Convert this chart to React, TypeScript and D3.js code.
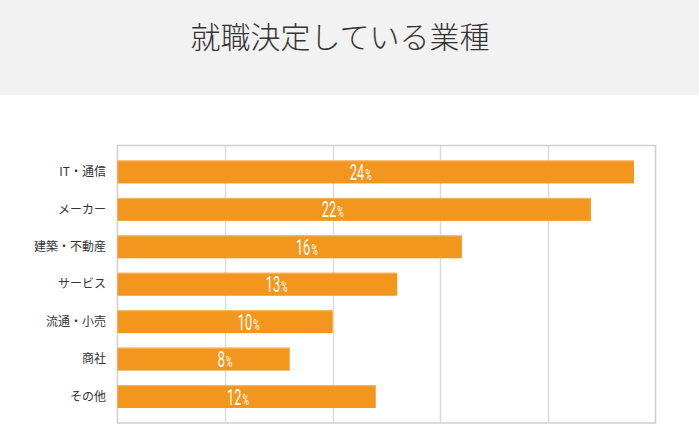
import React from "react";
import * as d3 from "d3";

const title = "就職決定している業種";
const categories = ["IT・通信", "メーカー", "建築・不動産", "サービス", "流通・小売", "商社", "その他"];
const values = [24, 22, 16, 13, 10, 8, 12];
// where each value label sits along the bar (in % units)
const labelAt = [11.3, 10.0, 8.8, 7.4, 6.1, 5.0, 5.6];
const xMax = 25;
const gridTicks = [0, 5, 10, 15, 20, 25];

const W = 699;
const H = 440;
const left = 117.5;
const right = 655.5;
const top = 145.5;
const bottom = 423;

export default function App() {
  const x = d3.scaleLinear().domain([0, xMax]).range([left, right]);
  const y = d3
    .scaleBand<string>()
    .domain(categories)
    .range([top, bottom])
    .paddingInner(0.387)
    .paddingOuter(0.4);
  const bw = y.bandwidth();
  return (
    <svg
      width={W}
      height={H}
      style={{ position: "absolute", left: 0, top: 0, background: "#fff" }}
    >
      <rect x={0} y={0} width={W} height={95} fill="#f2f2f2" />
      <text
        x={340}
        y={48}
        textAnchor="middle"
        fontFamily="'Noto Sans CJK JP', 'Noto Sans', sans-serif"
        fontSize={30}
        fontWeight={300}
        fill="#333"
      >
        {title}
      </text>
      {gridTicks.slice(1, -1).map((t) => (
        <line
          key={t}
          x1={Math.round(x(t)) + 0.5}
          x2={Math.round(x(t)) + 0.5}
          y1={top}
          y2={bottom}
          stroke="#dcdcdc"
          strokeWidth={1.5}
        />
      ))}
      <rect
        x={left}
        y={top}
        width={right - left}
        height={bottom - top}
        fill="none"
        stroke="#cfcfcf"
        strokeWidth={1.5}
      />
      {categories.map((c, i) => {
        const y0 = y(c)!;
        const xe = x(values[i]);
        const lx = x(labelAt[i]);
        const cy = y0 + bw / 2;
        return (
          <g key={c}>
            <rect x={left} y={y0} width={xe - left} height={bw} fill="#f2961e" />
            <rect x={left} y={y0} width={xe - left} height={1} fill="#f7b868" />
            <text
              x={106}
              y={cy}
              dy="0.35em"
              textAnchor="end"
              fontFamily="'Noto Sans CJK JP', sans-serif"
              fontSize={12}
              fill="#333"
            >
              {c}
            </text>
            <text
              transform={`translate(${lx},${cy + 8}) scale(0.58,1)`}
              textAnchor="middle"
              fontFamily="Roboto, sans-serif"
              fontWeight={400}
              fill="#fff"
            >
              <tspan fontSize={22}>{values[i]}</tspan>
              <tspan fontSize={15} dx={2}>%</tspan>
            </text>
          </g>
        );
      })}
    </svg>
  );
}
